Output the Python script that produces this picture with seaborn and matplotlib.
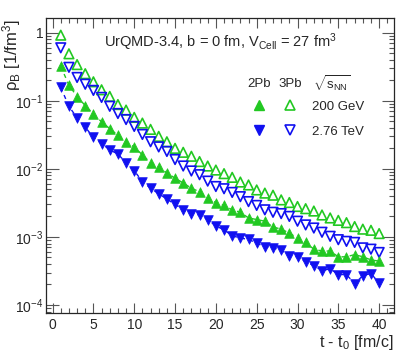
import numpy as np
import pandas as pd
import matplotlib
matplotlib.use('Agg')
import matplotlib.pyplot as plt
from matplotlib.lines import Line2D
from matplotlib.ticker import FixedLocator, MultipleLocator, LogLocator, NullFormatter
import seaborn as sns

sns.set_style('ticks')
plt.rcParams['font.family'] = ['Liberation Sans', 'DejaVu Sans']
plt.rcParams['mathtext.fontset'] = 'custom'
plt.rcParams['mathtext.rm'] = 'Liberation Sans'
plt.rcParams['mathtext.it'] = 'Liberation Sans:italic'

# time after t0 [fm/c]
t = list(range(1, 41))

# 3Pb, 200 GeV (open up triangles)
rho_3pb_200 = [0.92, 0.49, 0.34, 0.25, 0.19, 0.145, 0.116, 0.088, 0.073, 0.057,
               0.047, 0.038, 0.030, 0.025, 0.020, 0.0175, 0.0153, 0.0128, 0.011, 0.0096,
               0.0085, 0.0075, 0.0064, 0.0058, 0.0049, 0.0044, 0.0041, 0.0035, 0.0032, 0.0028,
               0.0026, 0.0024, 0.0021, 0.0019, 0.00175, 0.00162, 0.00142, 0.0013, 0.00125, 0.00112]
# 3Pb, 2.76 TeV (open down triangles)
rho_3pb_276 = [0.60, 0.31, 0.22, 0.175, 0.142, 0.112, 0.083, 0.065, 0.053, 0.042,
               0.032, 0.025, 0.021, 0.018, 0.0137, 0.011, 0.0093, 0.0082, 0.0066, 0.0055,
               0.0051, 0.0045, 0.0039, 0.0033, 0.0029, 0.0025, 0.0023, 0.0022, 0.0020, 0.0017,
               0.0015, 0.00135, 0.00117, 0.00102, 0.00091, 0.00086, 0.00083, 0.00069, 0.00066, 0.00059]
# 2Pb, 200 GeV (filled up triangles)
rho_2pb_200 = [0.32, 0.17, 0.115, 0.085, 0.064, 0.049, 0.039, 0.031, 0.025, 0.021,
               0.016, 0.0123, 0.0107, 0.0087, 0.0073, 0.0062, 0.0052, 0.0046, 0.0037, 0.0032,
               0.0029, 0.0025, 0.0023, 0.0019, 0.0018, 0.0017, 0.0014, 0.0013, 0.00114, 0.00096,
               0.00083, 0.00066, 0.00062, 0.00062, 0.00051, 0.00051, 0.00055, 0.00051, 0.00046, 0.00044]
# 2Pb, 2.76 TeV (filled down triangles)
rho_2pb_276 = [0.157, 0.083, 0.056, 0.041, 0.029, 0.0235, 0.019, 0.0165, 0.0123, 0.0094,
               0.0065, 0.0052, 0.0043, 0.0036, 0.0030, 0.0025, 0.0022, 0.0021, 0.0018, 0.00145,
               0.00127, 0.00104, 0.00096, 0.00092, 0.00081, 0.00072, 0.00069, 0.00064, 0.00053, 0.00051,
               0.00043, 0.00038, 0.00032, 0.00034, 0.00028, 0.00028, 0.000205, 0.00027, 0.00029, 0.00021]

green = '#22c822'
blue = '#1010f0'

series = [
    ('3Pb', '200 GeV', rho_3pb_200, '^', green, False),
    ('3Pb', '2.76 TeV', rho_3pb_276, 'v', blue, False),
    ('2Pb', '200 GeV', rho_2pb_200, '^', green, True),
    ('2Pb', '2.76 TeV', rho_2pb_276, 'v', blue, True),
]

fig = plt.figure(figsize=(4.15, 3.51), dpi=100)
ax = fig.add_axes([0.111, 0.108, 0.838, 0.841])

for system, energy, rho, marker, color, filled in series:
    df = pd.DataFrame({'t': t, 'rho': rho})
    if filled:
        sns.lineplot(data=df, x='t', y='rho', ax=ax, color=color, lw=1.0,
                     linestyle=(0, (3, 3)), zorder=2)
        sns.scatterplot(data=df, x='t', y='rho', ax=ax, marker=marker, s=48,
                        color=color, edgecolor=color, linewidth=0.5, zorder=3)
    else:
        sns.scatterplot(data=df, x='t', y='rho', ax=ax, marker=marker, s=48,
                        facecolor='none', edgecolor=color, linewidth=1.2, zorder=3)

ax.set_yscale('log')
ax.set_xlim(-0.8, 41.8)
ax.set_ylim(7.6e-5, 1.65)

ax.xaxis.set_major_locator(MultipleLocator(5))
ax.xaxis.set_minor_locator(MultipleLocator(1))
ax.yaxis.set_major_locator(FixedLocator([1e-4, 1e-3, 1e-2, 1e-1, 1]))
ax.set_yticklabels(['$10^{-4}$', '$10^{-3}$', '$10^{-2}$', '$10^{-1}$', '1'])
ax.yaxis.set_minor_locator(LogLocator(base=10, subs=np.arange(2, 10)))
ax.yaxis.set_minor_formatter(NullFormatter())

ax.tick_params(which='both', direction='in', top=True, right=True, labelsize=10, color='#555555')
ax.tick_params(which='major', length=7, width=0.8)
ax.tick_params(which='minor', length=3.5, width=0.8)
ax.tick_params(axis='y', which='major', length=9, pad=2)
for sp in ax.spines.values():
    sp.set_linewidth(0.9)

ax.set_xlabel('t - t$_0$ [fm/c]', fontsize=11.5, loc='right', labelpad=1)
ax.set_ylabel(r'ρ$_\mathrm{B}$ [1/fm$^3$]', fontsize=12, loc='top')
ax.yaxis.set_label_coords(-0.066, 0.995)

ax.text(0.5, 0.917, r'UrQMD-3.4, b = 0 fm, V$_\mathrm{Cell}$ = 27 fm$^3$',
        transform=ax.transAxes, ha='center', va='center', fontsize=10.5)

# legend headers
ax.text(0.612, 0.776, '2Pb', transform=ax.transAxes, ha='center', va='center', fontsize=9.5)
ax.text(0.701, 0.776, '3Pb', transform=ax.transAxes, ha='center', va='center', fontsize=9.5)
ax.text(0.767, 0.776, r'$\sqrt{\mathrm{s}_\mathrm{NN}}$', transform=ax.transAxes,
        ha='left', va='center', fontsize=9.5)

handles = [
    Line2D([], [], ls='none', marker='^', ms=7, color=green),
    Line2D([], [], ls='none', marker='v', ms=7, color=blue),
    Line2D([], [], ls='none', marker='^', ms=7, mfc='none', mec=green, mew=1.2),
    Line2D([], [], ls='none', marker='v', ms=7, mfc='none', mec=blue, mew=1.2),
]
labels = ['', '', '200 GeV', '2.76 TeV']
ax.legend(handles, labels, ncol=2, frameon=False, fontsize=9.5,
          handlelength=1.0, handletextpad=1.17, columnspacing=0.18,
          labelspacing=0.95, loc='upper left', bbox_to_anchor=(0.593, 0.72),
          borderaxespad=0, borderpad=0)

fig.savefig('out.png', dpi=100)
